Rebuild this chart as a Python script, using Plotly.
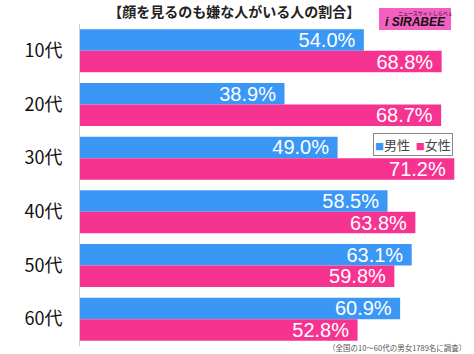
import plotly.graph_objects as go

categories = ["10代", "20代", "30代", "40代", "50代", "60代"]
male = [54.0, 38.9, 49.0, 58.5, 63.1, 60.9]
female = [68.8, 68.7, 71.2, 63.8, 59.8, 52.8]
series_names = ["男性", "女性"]
title_text = "【顔を見るのも嫌な人がいる人の割合】"
note_text = "（全国の10～60代の男女1789名に調査）"

BLUE = "#3a97f5"
PINK = "#f73391"
FONT = "Noto Sans CJK JP, Liberation Sans, sans-serif"

fig = go.Figure()
for name, vals, col in [(series_names[0], male, BLUE), (series_names[1], female, PINK)]:
    fig.add_trace(go.Bar(
        name=name, y=categories, x=vals, orientation="h",
        marker=dict(color=col, line=dict(width=0)),
        texttemplate="%{x:.1f}%\u00a0", textposition="inside",
        insidetextanchor="end",
        textfont=dict(color="white", size=20, family="Liberation Sans, Arial, sans-serif"),
        hoverinfo="skip",
    ))

fig.update_layout(
    width=474, height=354,
    margin=dict(l=80, r=5, t=24, b=8),
    paper_bgcolor="white", plot_bgcolor="white",
    barmode="group", bargap=0.2, bargroupgap=0,
    showlegend=False,
    uniformtext=dict(minsize=20, mode="show"),
    title=dict(text="<b>" + title_text + "</b>", x=0.494, xanchor="center",
               y=1 - 12 / 354, yanchor="middle",
               font=dict(size=14, color="#222", family=FONT)),
    xaxis=dict(range=[0, 74], showgrid=False, zeroline=False, showticklabels=False,
               showline=False, fixedrange=True),
    yaxis=dict(autorange="reversed", showgrid=False, showline=True, linecolor="#d0d0d0",
               linewidth=1, ticks="", ticklabelstandoff=13,
               tickfont=dict(size=18, color="#111", family=FONT)),
)

# legend box
sq = "<span style='color:{c};font-size:9px'>■</span>"
fig.add_annotation(
    xref="paper", yref="paper", x=(453 - 80) / 389, y=1 - (133 - 24) / 322,
    xanchor="right", yanchor="top", showarrow=False,
    text=sq.format(c=BLUE) + series_names[0] + "\u00a0\u00a0" + sq.format(c=PINK) + series_names[1],
    font=dict(size=13, color="#444", family=FONT),
    bordercolor="#888", borderwidth=1, borderpad=1, bgcolor="white",
)

# logo
fig.add_shape(type="rect", xref="paper", yref="paper",
              x0=(379 - 80) / 389, x1=(451 - 80) / 389,
              y0=1 + (24 - 30) / 322, y1=1 + (24 - 8) / 322,
              fillcolor="#f360c0", line=dict(width=0), layer="above")
fig.add_annotation(xref="paper", yref="paper", x=(415 - 80) / 389, y=1 + (24 - 22) / 322,
                   xanchor="center", yanchor="middle", showarrow=False,
                   text="<b><i>i SIRABEE</i></b>",
                   font=dict(size=12, color="#111", family="Liberation Sans, Arial, sans-serif"))
fig.add_annotation(xref="paper", yref="paper", x=(425 - 80) / 389, y=1 + (24 - 13) / 322,
                   xanchor="center", yanchor="middle", showarrow=False,
                   text="ニュースサイトしらべぇ",
                   font=dict(size=5, color="#111", family=FONT))

# footnote
fig.add_annotation(xref="paper", yref="paper", x=(468 - 80) / 389, y=-1 / 322,
                   xanchor="right", yanchor="middle", showarrow=False,
                   text=note_text, font=dict(size=7.5, color="#555", family=FONT))

fig.write_html("out.html")
